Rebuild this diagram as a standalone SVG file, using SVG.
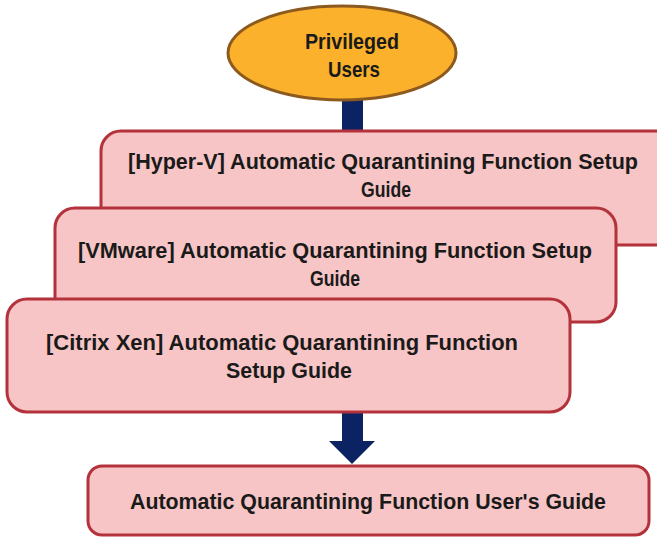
<svg xmlns="http://www.w3.org/2000/svg" width="657" height="538" viewBox="0 0 657 538">
<style>
.box{fill:#f7c5c5;stroke:#b3323b;stroke-width:3}
.t{font-family:"Liberation Sans",Arial,sans-serif;font-weight:bold;font-size:21.5px;fill:#1a1a1a;text-anchor:middle}
</style>
<rect width="657" height="538" fill="#ffffff"/>
<g id="connectors">
<polygon points="342,100 363,100 363,441 375,441 352,464 329,441 342,441" fill="#0b2263"/>
</g>
<g id="users">
<ellipse cx="342" cy="53" rx="114" ry="47" fill="#fbb12b" stroke="#8c5a1e" stroke-width="3"/>
<text class="t" x="352" y="49" textLength="94" lengthAdjust="spacingAndGlyphs">Privileged</text>
<text class="t" x="354" y="77" textLength="52" lengthAdjust="spacingAndGlyphs">Users</text>
</g>
<g id="hyperv">
<rect class="box" x="101" y="131" width="576" height="114" rx="20"/>
<text class="t" x="383" y="169" textLength="510" lengthAdjust="spacingAndGlyphs">[Hyper-V] Automatic Quarantining Function Setup</text>
<text class="t" x="386" y="197" textLength="50" lengthAdjust="spacingAndGlyphs">Guide</text>
</g>
<g id="vmware">
<rect class="box" x="55" y="208" width="561" height="114" rx="20"/>
<text class="t" x="335" y="258" textLength="514" lengthAdjust="spacingAndGlyphs">[VMware] Automatic Quarantining Function Setup</text>
<text class="t" x="335" y="286" textLength="50" lengthAdjust="spacingAndGlyphs">Guide</text>
</g>
<g id="citrix">
<rect class="box" x="7" y="299" width="563" height="113" rx="20"/>
<text class="t" x="282" y="350" textLength="472" lengthAdjust="spacingAndGlyphs">[Citrix Xen] Automatic Quarantining Function</text>
<text class="t" x="289" y="378" textLength="126" lengthAdjust="spacingAndGlyphs">Setup Guide</text>
</g>
<g id="userguide">
<rect class="box" x="88" y="466" width="561" height="69" rx="14"/>
<text class="t" x="368" y="509" textLength="476" lengthAdjust="spacingAndGlyphs">Automatic Quarantining Function User's Guide</text>
</g>
</svg>
